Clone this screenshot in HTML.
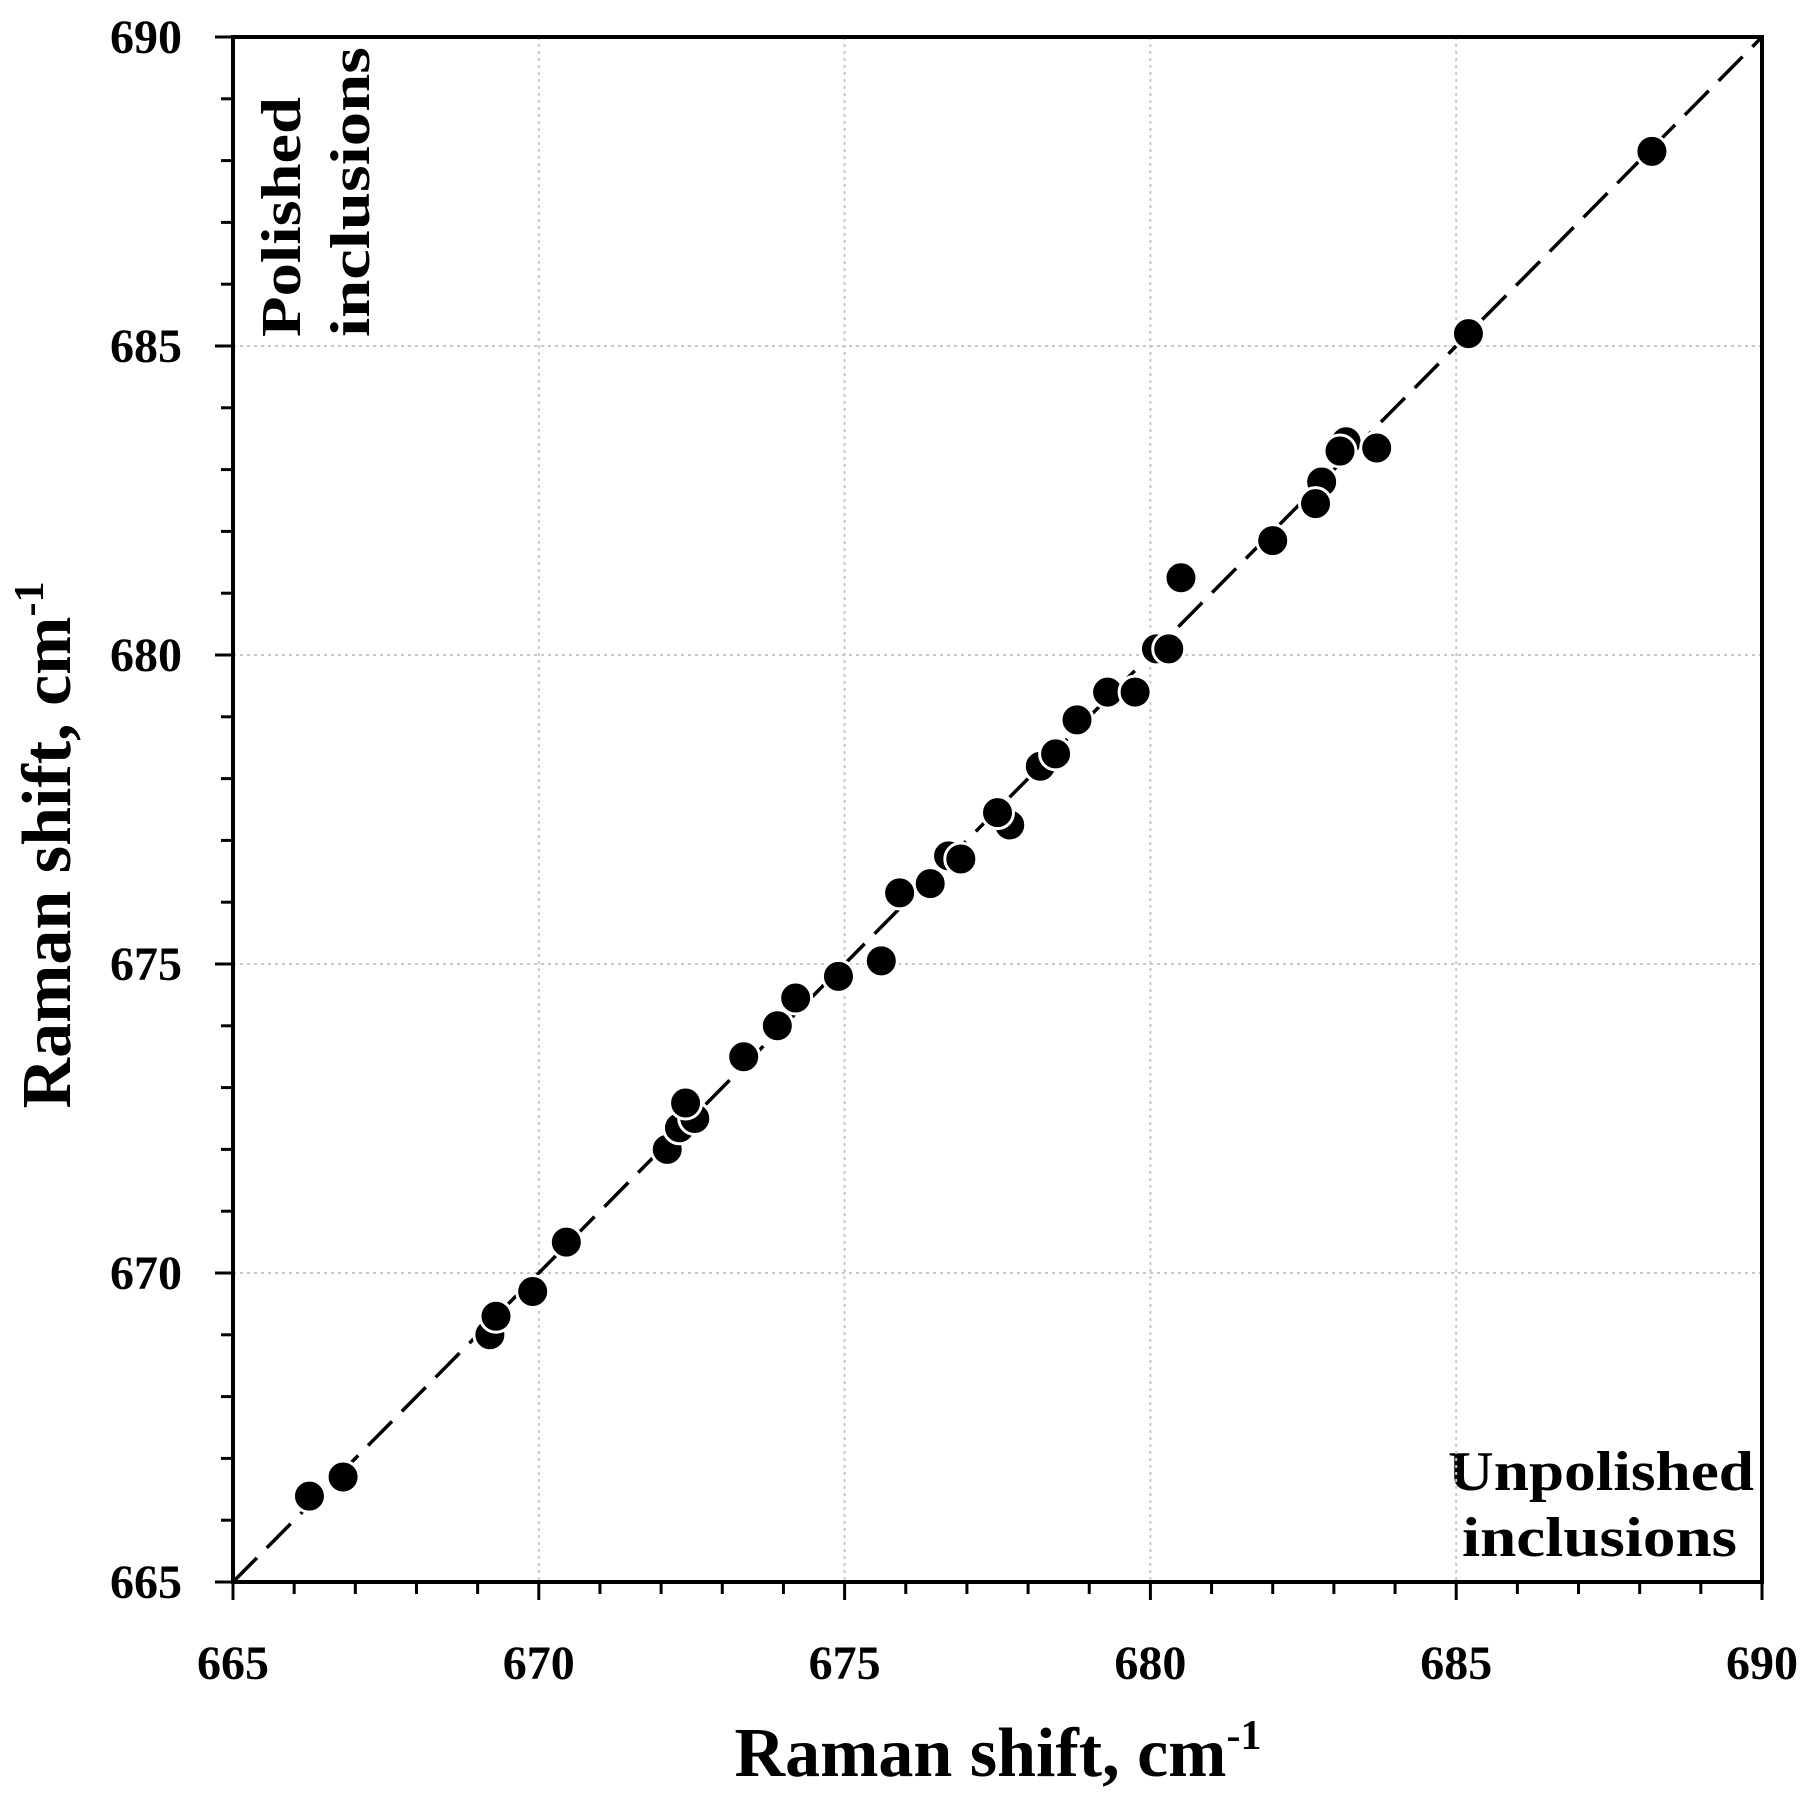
<!DOCTYPE html>
<html><head><meta charset="utf-8"><style>
html,body{margin:0;padding:0;background:#fff;}
svg{display:block;font-family:"Liberation Serif",serif;}
</style></head><body>
<svg id="chart" width="1816" height="1803" viewBox="0 0 1816 1803" xmlns="http://www.w3.org/2000/svg">
<text transform="translate(70,845) rotate(-90)" text-anchor="middle" font-size="70" font-weight="bold">Raman shift, cm<tspan dy="-27" font-size="42">-1</tspan></text>
<text x="998" y="1776" text-anchor="middle" font-size="70" font-weight="bold">Raman shift, cm<tspan dy="-27" font-size="42">-1</tspan></text>
<text transform="translate(300,337) rotate(-90)" font-size="56" font-weight="bold" textLength="240" lengthAdjust="spacingAndGlyphs">Polished</text>
<text transform="translate(369,337) rotate(-90)" font-size="56" font-weight="bold" textLength="290" lengthAdjust="spacingAndGlyphs">inclusions</text>
<text x="1754" y="1490" text-anchor="end" font-size="56" font-weight="bold" textLength="306" lengthAdjust="spacingAndGlyphs">Unpolished</text>
<text x="1737" y="1556" text-anchor="end" font-size="56" font-weight="bold" textLength="275" lengthAdjust="spacingAndGlyphs">inclusions</text>
</svg>
<script>
const xTicks=[665,670,675,680,685,690];
const yTicks=[665,670,675,680,685,690];
const xVals=[666.25,666.8,669.2,669.3,669.9,670.45,672.1,672.3,672.55,672.4,673.35,673.9,674.2,674.9,675.6,675.9,676.4,676.7,676.9,677.7,677.5,678.2,678.45,678.8,679.3,679.75,680.1,680.3,680.5,682.0,682.8,682.7,683.2,683.1,683.7,685.2,688.2];
const yVals=[666.39,666.7,669.0,669.3,669.7,670.5,672.0,672.35,672.5,672.75,673.5,674.0,674.45,674.8,675.05,676.15,676.3,676.75,676.7,677.25,677.45,678.2,678.4,678.95,679.4,679.4,680.1,680.1,681.25,681.85,682.8,682.45,683.45,683.3,683.35,685.2,688.15];
const NS="http://www.w3.org/2000/svg";
const svg=document.getElementById('chart');
const X0=233,X1=1762,Y0=1582,Y1=37,MIN=665,MAX=690;
function sx(v){return X0+(v-MIN)/(MAX-MIN)*(X1-X0);}
function sy(v){return Y0-(v-MIN)/(MAX-MIN)*(Y0-Y1);}
function mk(tag,attrs){const e=document.createElementNS(NS,tag);for(const k in attrs)e.setAttribute(k,attrs[k]);svg.appendChild(e);return e;}
xTicks.slice(1,-1).forEach(v=>{
 const g=mk('line',{x1:sx(v),x2:sx(v),y1:Y1,y2:Y0,stroke:'#c8c8c8','stroke-width':2,'stroke-dasharray':'3,4'});
 
 
});
yTicks.slice(1,-1).forEach(v=>{
 const g=mk('line',{x1:X0,x2:X1,y1:sy(v),y2:sy(v),stroke:'#c8c8c8','stroke-width':2,'stroke-dasharray':'3,4'});
 
 
});
const fr=mk('rect',{x:X0,y:Y1,width:X1-X0,height:Y0-Y1,fill:'none',stroke:'#000','stroke-width':4});


for(let v=MIN;v<=MAX;v++){
 const major=(v%5===0);
 const tx=mk('line',{x1:sx(v),x2:sx(v),y1:Y0,y2:Y0+(major?18:12),stroke:'#000','stroke-width':3});
 
 
 const ty=mk('line',{x1:X0,x2:X0-(major?18:12),y1:sy(v),y2:sy(v),stroke:'#000','stroke-width':3});
 
 
}
xTicks.forEach(v=>{
 const t=mk('text',{x:sx(v),y:1679,'text-anchor':'middle','font-size':48,'font-weight':'bold'});
 t.textContent=v;
 
 
});
yTicks.forEach(v=>{
 const t=mk('text',{x:182,y:sy(v)+16,'text-anchor':'end','font-size':48,'font-weight':'bold'});
 t.textContent=v;
 
 
});
const ln=mk('line',{x1:sx(MIN),y1:sy(MIN),x2:sx(MAX),y2:sy(MAX),stroke:'#000','stroke-width':3.5,'stroke-dasharray':'34,14'});


xVals.forEach((xv,i)=>{
 const c=mk('circle',{cx:sx(xv),cy:sy(yVals[i]),r:16,fill:'#000',stroke:'#fff','stroke-width':3});
 
 
});
</script>
</body></html>
